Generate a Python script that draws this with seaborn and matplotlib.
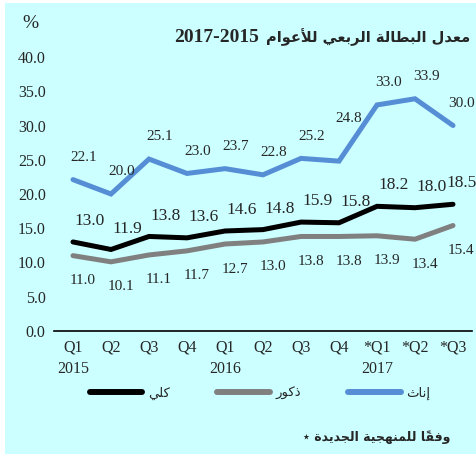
import numpy as np
import pandas as pd
import matplotlib
matplotlib.use("Agg")
import matplotlib.pyplot as plt
from matplotlib.lines import Line2D
from matplotlib.patches import Rectangle
import seaborn as sns

# data
quarters = ["Q1\n2015", "Q2", "Q3", "Q4", "Q1\n2016", "Q2", "Q3", "Q4",
            "*Q1\n2017", "*Q2", "*Q3"]
total = [13.0, 11.9, 13.8, 13.6, 14.6, 14.8, 15.9, 15.8, 18.2, 18.0, 18.5]
males = [11.0, 10.1, 11.1, 11.7, 12.7, 13.0, 13.8, 13.8, 13.9, 13.4, 15.4]
females = [22.1, 20.0, 25.1, 23.0, 23.7, 22.8, 25.2, 24.8, 33.0, 33.9, 30.0]

title_ar = "معدل البطالة الربعي للأعوام"
title_years = "2017-2015"
lbl_total = "كلي"
lbl_males = "ذكور"
lbl_females = "إناث"
footnote_ar = "وفقاً للمنهجية الجديدة"


# small arabic shaper (matplotlib has no RTL shaping)
_F = {
    '\u0621': (0xFE80,), '\u0622': (0xFE81, 0xFE82), '\u0623': (0xFE83, 0xFE84),
    '\u0624': (0xFE85, 0xFE86), '\u0625': (0xFE87, 0xFE88),
    '\u0626': (0xFE89, 0xFE8A, 0xFE8B, 0xFE8C), '\u0627': (0xFE8D, 0xFE8E),
    '\u0628': (0xFE8F, 0xFE90, 0xFE91, 0xFE92), '\u0629': (0xFE93, 0xFE94),
    '\u062A': (0xFE95, 0xFE96, 0xFE97, 0xFE98), '\u062B': (0xFE99, 0xFE9A, 0xFE9B, 0xFE9C),
    '\u062C': (0xFE9D, 0xFE9E, 0xFE9F, 0xFEA0), '\u062D': (0xFEA1, 0xFEA2, 0xFEA3, 0xFEA4),
    '\u062E': (0xFEA5, 0xFEA6, 0xFEA7, 0xFEA8), '\u062F': (0xFEA9, 0xFEAA),
    '\u0630': (0xFEAB, 0xFEAC), '\u0631': (0xFEAD, 0xFEAE), '\u0632': (0xFEAF, 0xFEB0),
    '\u0633': (0xFEB1, 0xFEB2, 0xFEB3, 0xFEB4), '\u0634': (0xFEB5, 0xFEB6, 0xFEB7, 0xFEB8),
    '\u0635': (0xFEB9, 0xFEBA, 0xFEBB, 0xFEBC), '\u0636': (0xFEBD, 0xFEBE, 0xFEBF, 0xFEC0),
    '\u0637': (0xFEC1, 0xFEC2, 0xFEC3, 0xFEC4), '\u0638': (0xFEC5, 0xFEC6, 0xFEC7, 0xFEC8),
    '\u0639': (0xFEC9, 0xFECA, 0xFECB, 0xFECC), '\u063A': (0xFECD, 0xFECE, 0xFECF, 0xFED0),
    '\u0641': (0xFED1, 0xFED2, 0xFED3, 0xFED4), '\u0642': (0xFED5, 0xFED6, 0xFED7, 0xFED8),
    '\u0643': (0xFED9, 0xFEDA, 0xFEDB, 0xFEDC), '\u0644': (0xFEDD, 0xFEDE, 0xFEDF, 0xFEE0),
    '\u0645': (0xFEE1, 0xFEE2, 0xFEE3, 0xFEE4), '\u0646': (0xFEE5, 0xFEE6, 0xFEE7, 0xFEE8),
    '\u0647': (0xFEE9, 0xFEEA, 0xFEEB, 0xFEEC), '\u0648': (0xFEED, 0xFEEE),
    '\u0649': (0xFEEF, 0xFEF0), '\u064A': (0xFEF1, 0xFEF2, 0xFEF3, 0xFEF4),
}
_LAMALEF = {'\u0622': (0xFEF5, 0xFEF6), '\u0623': (0xFEF7, 0xFEF8),
            '\u0625': (0xFEF9, 0xFEFA), '\u0627': (0xFEFB, 0xFEFC)}


def _is_mark(c):
    return '\u064B' <= c <= '\u0652'


def shape_ar(text):
    chars = list(text)
    letters = [i for i, c in enumerate(chars) if not _is_mark(c)]
    clusters = []
    k = 0
    while k < len(letters):
        i = letters[k]
        c = chars[i]
        nxt = chars[letters[k + 1]] if k + 1 < len(letters) else None
        prv = chars[letters[k - 1]] if k > 0 else None
        join_prev = prv in _F and len(_F[prv]) == 4 and c in _F
        marks = []
        j = i + 1
        while j < len(chars) and _is_mark(chars[j]):
            marks.append(chars[j]); j += 1
        if c == '\u0644' and nxt in _LAMALEF:
            g = chr(_LAMALEF[nxt][1 if join_prev else 0])
            j2 = letters[k + 1] + 1
            while j2 < len(chars) and _is_mark(chars[j2]):
                marks.append(chars[j2]); j2 += 1
            clusters.append(g + "".join(marks))
            k += 2
            continue
        if c in _F:
            f = _F[c]
            join_next = len(f) == 4 and nxt in _F
            if len(f) == 1:
                g = f[0]
            elif join_prev and join_next:
                g = f[3]
            elif join_prev:
                g = f[1]
            elif join_next:
                g = f[2]
            else:
                g = f[0]
            clusters.append(chr(g) + "".join(marks))
        else:
            clusters.append(c + "".join(marks))
        k += 1
    return "".join(clusters[::-1])


sns.set_style("white")
plt.rcParams['font.family'] = ['Liberation Serif', 'DejaVu Sans']

bg = "#CCFFFF"
c_total, c_males, c_females = "#000000", "#808080", "#558ED5"

n = len(quarters)
df = pd.DataFrame({
    "pos": list(range(n)) * 3,
    "value": total + males + females,
    "series": ["total"] * n + ["males"] * n + ["females"] * n,
})

fig = plt.figure(figsize=(4.77, 4.54), dpi=100, facecolor=bg)
fig.patches.append(Rectangle((0, 0), 5 / 477, 1, transform=fig.transFigure,
                             facecolor="white", edgecolor="none", zorder=-1))
fig.patches.append(Rectangle((0, 1 - 3 / 454), 1, 3 / 454, transform=fig.transFigure,
                             facecolor="white", edgecolor="none", zorder=-1))
ax = fig.add_axes([54 / 477, 1 - 331 / 454, 418 / 477, 274 / 454])
ax.set_facecolor(bg)

sns.lineplot(data=df, x="pos", y="value", hue="series",
             hue_order=["males", "total", "females"],
             palette={"total": c_total, "males": c_males, "females": c_females},
             linewidth=3.6, ax=ax, legend=False)
for ln in ax.lines:
    ln.set_solid_capstyle("round")
    ln.set_solid_joinstyle("miter")

# value labels
for i in range(n):
    fdx, fdy = 8, 16
    tdx, tdy = 12, 15
    mdx = 7
    if i == 7:
        fdx, fdy = 7, 31
    if i == n - 1:
        fdx, tdx, mdx = 6, 6, 6
    ax.annotate(f"{females[i]:.1f}", (i, females[i]), xytext=(fdx, fdy),
                textcoords="offset points", ha="center", va="center", fontsize=11)
    ax.annotate(f"{total[i]:.1f}", (i, total[i]), xytext=(tdx, tdy),
                textcoords="offset points", ha="center", va="center", fontsize=12.5)
    ax.annotate(f"{males[i]:.1f}", (i, males[i]), xytext=(mdx, -18),
                textcoords="offset points", ha="center", va="center", fontsize=11)

ax.set_xlim(-0.5, n - 0.5)
ax.set_ylim(0, 40)
ax.set_yticks(np.arange(0, 41, 5))
ax.set_yticklabels([f"{v:.1f}" for v in np.arange(0, 41, 5)], fontsize=11.5)
ax.set_xticks(range(n))
ax.set_xticklabels(quarters, fontsize=11.5, linespacing=1.45)
ax.set_xticks(np.arange(-0.5, n, 1), minor=True)
ax.tick_params(axis="x", which="major", length=0, pad=6)
ax.tick_params(axis="x", which="minor", direction="in", length=4, width=1.2, color="black")
ax.tick_params(axis="y", length=0, pad=6)
ax.set_xlabel("")
ax.set_ylabel("")
for s in ["top", "right", "left"]:
    ax.spines[s].set_visible(False)
ax.spines["bottom"].set_color("black")
ax.spines["bottom"].set_linewidth(1.2)

# legend
handles = [Line2D([], [], color=c, linewidth=4.3, solid_capstyle="round")
           for c in (c_total, c_males, c_females)]
fig.legend(handles, [shape_ar(lbl_total), shape_ar(lbl_males), shape_ar(lbl_females)],
           loc="center", bbox_to_anchor=(0.545, 0.133), ncol=3, frameon=False,
           handlelength=4.0, columnspacing=3.6, handletextpad=0.4, fontsize=9.5)

# titles and notes
fig.text(0.063, 0.948, "%", fontsize=14, ha="center", va="center")
t_ar = fig.text(0.985, 0.918, shape_ar(title_ar), fontsize=10.5, fontweight="bold",
                ha="right", va="center", family=["DejaVu Sans"])
fig.add_artist(plt.Annotation(title_years, xy=(0, 0.5), xycoords=t_ar, xytext=(-5, 0),
                              textcoords="offset points", ha="right", va="center",
                              fontsize=14, fontweight="bold", annotation_clip=False))
fig.text(0.945, 0.038, "٭ " + shape_ar(footnote_ar), fontsize=9,
         fontweight="bold", ha="right", va="center", family=["DejaVu Sans"])

fig.savefig("out.png", dpi=100, facecolor=bg)
